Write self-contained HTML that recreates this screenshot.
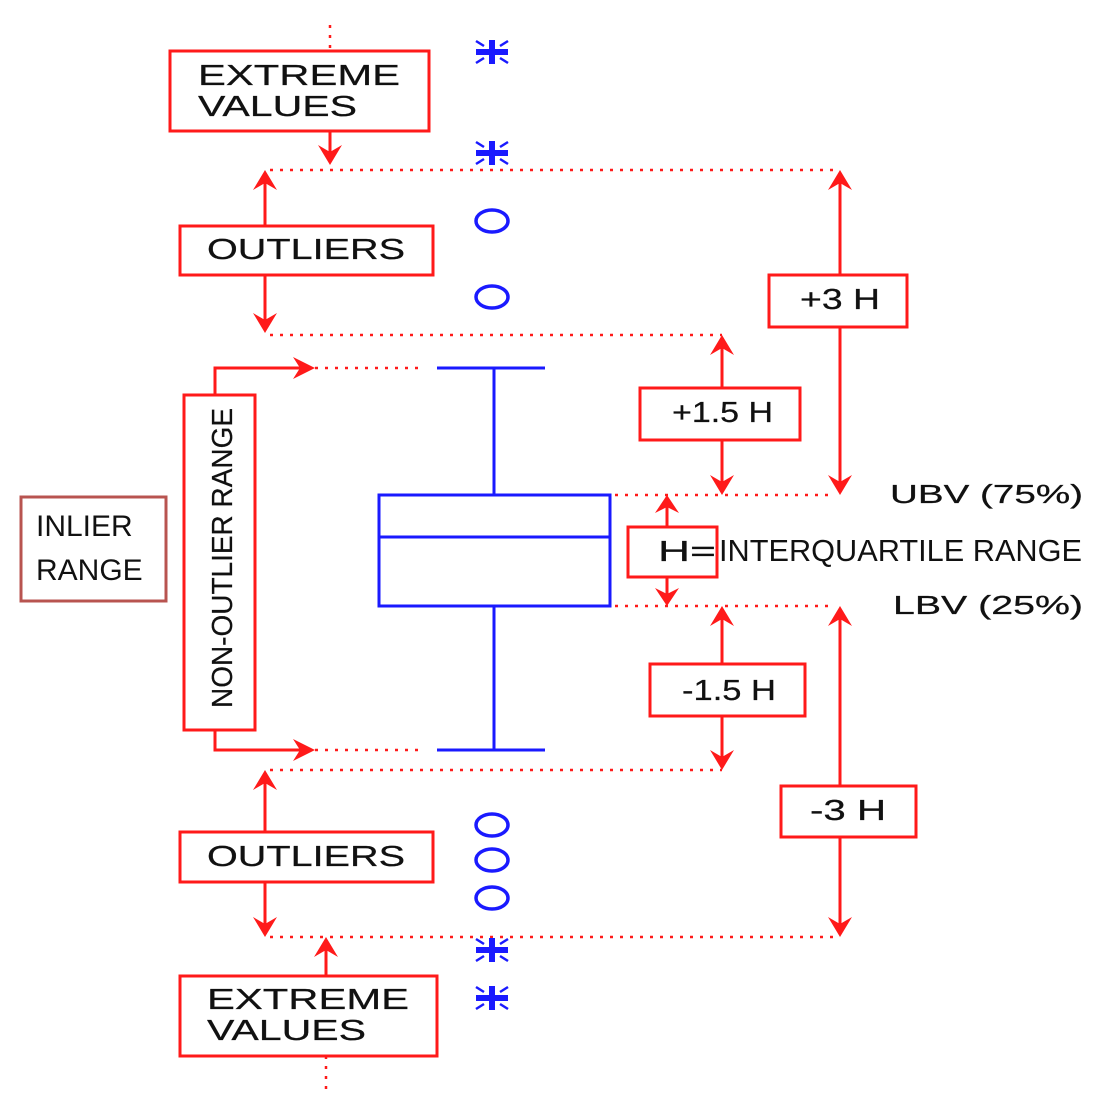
<!DOCTYPE html>
<html><head><meta charset="utf-8"><style>
html,body{margin:0;padding:0;background:#fff;}
svg{display:block;}
text{font-family:"Liberation Sans",sans-serif;fill:#111;}
</style></head><body>
<svg width="1096" height="1093" viewBox="0 0 1096 1093" xmlns="http://www.w3.org/2000/svg">
<defs>
<g id="ast" fill="none" stroke="#1a1aff">
<line x1="-16" y1="0" x2="16" y2="0" stroke-width="6"/>
<line x1="0" y1="-12" x2="0" y2="12" stroke-width="6"/>
<line x1="-16" y1="-11" x2="-8" y2="-6" stroke-width="2.5"/>
<line x1="16" y1="-11" x2="8" y2="-6" stroke-width="2.5"/>
<line x1="-16" y1="11" x2="-8" y2="6" stroke-width="2.5"/>
<line x1="16" y1="11" x2="8" y2="6" stroke-width="2.5"/>
</g>
</defs>
<g stroke="#ff1a1a" stroke-width="2.5" stroke-dasharray="3 7" fill="none">
<line x1="330" y1="25" x2="330" y2="50"/>
<line x1="270" y1="170" x2="840" y2="170"/>
<line x1="270" y1="335" x2="722" y2="335"/>
<line x1="315" y1="368" x2="420" y2="368"/>
<line x1="315" y1="750" x2="420" y2="750"/>
<line x1="615" y1="495" x2="830" y2="495"/>
<line x1="615" y1="606" x2="830" y2="606"/>
<line x1="270" y1="770" x2="722" y2="770"/>
<line x1="270" y1="937" x2="840" y2="937"/>
<line x1="326" y1="1056" x2="326" y2="1090"/>
</g>
<g stroke="#ff1a1a" stroke-width="3" fill="none">
<line x1="330" y1="132" x2="330" y2="160"/>
<line x1="265" y1="180" x2="265" y2="225"/>
<line x1="265" y1="275" x2="265" y2="325"/>
<line x1="840" y1="180" x2="840" y2="485"/>
<line x1="722" y1="345" x2="722" y2="485"/>
<polyline points="215,395 215,368 305,368"/>
<polyline points="215,730 215,750 305,750"/>
<line x1="667" y1="505" x2="667" y2="596"/>
<line x1="722" y1="616" x2="722" y2="760"/>
<line x1="840" y1="616" x2="840" y2="927"/>
<line x1="265" y1="780" x2="265" y2="832"/>
<line x1="265" y1="882" x2="265" y2="927"/>
<line x1="326" y1="947" x2="326" y2="975"/>
</g>
<g fill="#ff1a1a">
<polygon points="330,165 318,145 330,152 342,145"/>
<polygon points="265,333 253,313 265,320 277,313"/>
<polygon points="840,495 828,475 840,482 852,475"/>
<polygon points="722,495 710,475 722,482 734,475"/>
<polygon points="667,606 655,588 667,594 679,588"/>
<polygon points="722,770 710,750 722,757 734,750"/>
<polygon points="840,937 828,917 840,924 852,917"/>
<polygon points="265,937 253,917 265,924 277,917"/>
<polygon points="265,170 253,190 265,183 277,190"/>
<polygon points="840,170 828,190 840,183 852,190"/>
<polygon points="722,335 710,355 722,348 734,355"/>
<polygon points="667,495 655,513 667,507 679,513"/>
<polygon points="722,606 710,626 722,619 734,626"/>
<polygon points="840,606 828,626 840,619 852,626"/>
<polygon points="265,770 253,790 265,783 277,790"/>
<polygon points="326,937 314,957 326,950 338,957"/>
<polygon points="315,368 293,357 300,368 293,379"/>
<polygon points="315,750 293,739 300,750 293,761"/>
</g>
<g stroke="#ff1a1a" stroke-width="3" fill="#fff">
<rect x="170" y="51" width="259" height="80"/>
<rect x="180" y="226" width="253" height="49"/>
<rect x="769" y="275" width="138" height="52"/>
<rect x="640" y="388" width="160" height="52"/>
<rect x="184" y="395" width="71" height="335"/>
<rect x="628" y="527" width="89" height="50"/>
<rect x="650" y="664" width="155" height="52"/>
<rect x="781" y="786" width="135" height="51"/>
<rect x="180" y="832" width="253" height="50"/>
<rect x="180" y="976" width="257" height="80"/>
</g>
<rect x="21" y="497" width="145" height="104" fill="#fff" stroke="#b85450" stroke-width="3"/>
<g stroke="#1a1aff" stroke-width="3" fill="none">
<line x1="437" y1="368" x2="545" y2="368"/>
<line x1="494" y1="368" x2="494" y2="495"/>
<rect x="379" y="495" width="231" height="111"/>
<line x1="379" y1="537" x2="610" y2="537"/>
<line x1="494" y1="606" x2="494" y2="750"/>
<line x1="437" y1="750" x2="545" y2="750"/>
</g>
<g stroke="#1a1aff" stroke-width="3.5" fill="none">
<ellipse cx="492" cy="221" rx="16" ry="11"/>
<ellipse cx="492" cy="297" rx="16" ry="11"/>
<ellipse cx="492" cy="825" rx="16" ry="11"/>
<ellipse cx="492" cy="860" rx="16" ry="11"/>
<ellipse cx="492" cy="898" rx="16" ry="11"/>
</g>
<use href="#ast" x="492" y="52"/>
<use href="#ast" x="492" y="153"/>
<use href="#ast" x="492" y="950"/>
<use href="#ast" x="492" y="998"/>
<g font-size="29" stroke="#111" stroke-width="0.25">
<text x="198" y="85" textLength="202" lengthAdjust="spacingAndGlyphs">EXTREME</text>
<text x="198" y="116" textLength="159" lengthAdjust="spacingAndGlyphs">VALUES</text>
<text x="207" y="259" textLength="198" lengthAdjust="spacingAndGlyphs">OUTLIERS</text>
<text x="207" y="866" textLength="198" lengthAdjust="spacingAndGlyphs">OUTLIERS</text>
<text x="207" y="1009" textLength="202" lengthAdjust="spacingAndGlyphs">EXTREME</text>
<text x="207" y="1040" textLength="159" lengthAdjust="spacingAndGlyphs">VALUES</text>
<text x="800" y="309" textLength="80" lengthAdjust="spacingAndGlyphs">+3 H</text>
<text x="672" y="422" textLength="101" lengthAdjust="spacingAndGlyphs">+1.5 H</text>
<text x="682" y="700" textLength="94" lengthAdjust="spacingAndGlyphs">-1.5 H</text>
<text x="810" y="820" textLength="76" lengthAdjust="spacingAndGlyphs">-3 H</text>
<text x="658" y="561" textLength="58" lengthAdjust="spacingAndGlyphs">H=</text>
<text x="890" y="503" font-size="26" textLength="193" lengthAdjust="spacingAndGlyphs">UBV (75%)</text>
<text x="893" y="614" font-size="26" textLength="190" lengthAdjust="spacingAndGlyphs">LBV (25%)</text>
<text transform="translate(232,708) rotate(-90)" font-size="29" textLength="300" lengthAdjust="spacingAndGlyphs">NON-OUTLIER  RANGE</text>
</g>
<text x="719" y="561" font-size="31" textLength="363" lengthAdjust="spacingAndGlyphs">INTERQUARTILE RANGE</text>
<text x="36" y="536" font-size="30">INLIER</text>
<text x="36" y="580" font-size="30">RANGE</text>
</svg>
</body></html>
